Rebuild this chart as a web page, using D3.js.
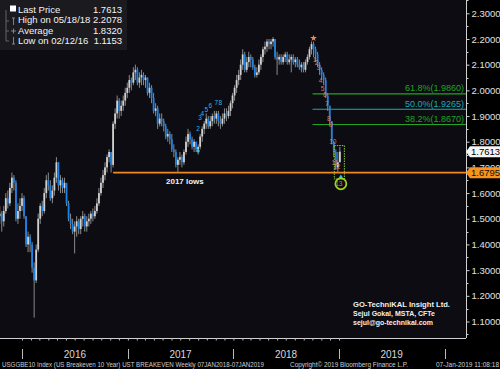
<!DOCTYPE html>
<html>
<head>
<meta charset="utf-8">
<script src="https://cdnjs.cloudflare.com/ajax/libs/d3/7.8.5/d3.min.js"></script>
<style>
  body { margin: 0; background: #000; }
  svg text { font-family: "Liberation Sans", Arial, sans-serif; }
</style>
</head>
<body>
<div id="chart"></div>
<script>
// weekly USGGBE10 bars, Fridays from 16 Oct 2015
var firstWeek = new Date(2015, 9, 16);
var firstOpen = 1.51;
var closes = [
  1.52,1.49,1.53,1.58,1.56,1.62,1.66,1.64,1.50,1.53,
  1.55,1.58,1.51,1.40,1.43,1.40,1.31,1.26,1.38,1.50,
  1.55,1.53,1.60,1.65,1.63,1.58,1.61,1.66,1.72,1.63,
  1.65,1.62,1.64,1.56,1.50,1.48,1.45,1.47,1.49,1.46,
  1.50,1.51,1.47,1.49,1.50,1.52,1.51,1.53,1.56,1.60,
  1.64,1.67,1.70,1.74,1.76,1.71,1.87,1.91,1.96,1.92,
  1.94,1.96,1.99,2.01,2.04,2.03,2.07,2.08,2.03,2.05,
  2.06,2.04,2.05,1.99,2.01,1.97,1.92,1.93,1.87,1.89,
  1.88,1.86,1.82,1.83,1.81,1.77,1.76,1.71,1.73,1.74,
  1.72,1.76,1.80,1.83,1.81,1.78,1.80,1.77,1.78,1.82,
  1.85,1.87,1.89,1.86,1.88,1.90,1.89,1.91,1.88,1.87,
  1.89,1.91,1.90,1.92,1.95,1.98,2.01,2.04,2.06,2.10,
  2.14,2.08,2.11,2.13,2.12,2.09,2.06,2.07,2.10,2.13,
  2.16,2.17,2.19,2.18,2.19,2.20,2.13,2.12,2.13,2.11,
  2.13,2.14,2.11,2.12,2.13,2.11,2.12,2.10,2.09,2.10,
  2.08,2.11,2.13,2.16,2.18,2.16,2.14,2.10,2.08,2.06,
  2.04,1.98,1.94,1.88,1.80,1.76,1.70,1.72,1.7613
];
var highs = [
  1.55,1.53,1.55,1.60,1.61,1.64,1.68,1.67,1.65,1.56,
  1.58,1.60,1.59,1.51,1.45,1.44,1.41,1.33,1.40,1.52,
  1.56,1.57,1.62,1.67,1.68,1.65,1.63,1.68,1.74,1.72,
  1.67,1.66,1.66,1.63,1.57,1.52,1.50,1.49,1.51,1.50,
  1.51,1.53,1.52,1.51,1.52,1.53,1.54,1.55,1.58,1.62,
  1.66,1.69,1.72,1.75,1.77,1.76,1.88,1.93,1.98,1.97,
  1.96,1.98,2.01,2.03,2.06,2.05,2.09,2.10,2.09,2.07,
  2.08,2.07,2.06,2.05,2.03,2.02,1.99,1.95,1.94,1.91,
  1.91,1.89,1.87,1.85,1.84,1.83,1.79,1.77,1.74,1.76,
  1.75,1.77,1.82,1.85,1.84,1.82,1.81,1.80,1.79,1.83,
  1.86,1.88,1.91,1.90,1.90,1.91,1.92,1.92,1.92,1.90,
  1.91,1.93,1.93,1.94,1.96,1.99,2.02,2.06,2.08,2.12,
  2.16,2.15,2.13,2.15,2.14,2.13,2.10,2.09,2.12,2.14,
  2.17,2.19,2.20,2.20,2.20,2.2078,2.20,2.15,2.14,2.14,
  2.14,2.15,2.15,2.14,2.14,2.14,2.13,2.13,2.12,2.11,
  2.11,2.12,2.14,2.17,2.19,2.19,2.17,2.15,2.11,2.09,
  2.07,2.05,1.99,1.94,1.88,1.80,1.77,1.76,1.78
];
var lows = [
  1.48,1.45,1.47,1.52,1.54,1.55,1.60,1.61,1.49,1.48,
  1.50,1.53,1.50,1.39,1.37,1.37,1.29,1.1153,1.25,1.37,
  1.48,1.51,1.52,1.58,1.61,1.57,1.56,1.59,1.64,1.61,
  1.60,1.60,1.60,1.55,1.49,1.46,1.44,1.365,1.43,1.44,
  1.44,1.47,1.45,1.45,1.47,1.48,1.49,1.50,1.52,1.55,
  1.59,1.62,1.65,1.68,1.72,1.68,1.70,1.85,1.89,1.89,
  1.90,1.92,1.94,1.97,1.99,2.00,2.02,2.04,2.02,2.01,
  2.02,2.02,2.01,1.98,1.97,1.95,1.91,1.90,1.85,1.86,
  1.86,1.84,1.81,1.80,1.79,1.76,1.74,1.70,1.6795,1.71,
  1.70,1.71,1.75,1.78,1.79,1.77,1.76,1.76,1.75,1.77,
  1.80,1.83,1.85,1.85,1.85,1.86,1.87,1.87,1.86,1.85,
  1.86,1.87,1.88,1.89,1.90,1.93,1.96,1.99,2.02,2.04,
  2.08,2.07,2.07,2.09,2.09,2.08,2.05,2.05,2.06,2.08,
  2.11,2.14,2.15,2.16,2.16,2.17,2.12,2.06,2.10,2.10,
  2.10,2.11,2.10,2.10,2.07,2.10,2.09,2.09,2.08,2.07,
  2.07,2.07,2.10,2.12,2.14,2.13,2.11,2.09,2.06,2.04,
  2.02,1.97,1.92,1.86,1.79,1.74,1.69,1.6795,1.72
];

var legendRows = [
  { label: 'Last Price', value: '1.7613' },
  { label: 'High on 05/18/18', value: '2.2078' },
  { label: 'Average', value: '1.8320' },
  { label: 'Low on 02/12/16', value: '1.1153' }
];
var yearLabels = ['2016', '2017', '2018', '2019'];

var supportLevel = 1.6795;
var supportFromBar = 56;
var lastPrice = 1.7613;
var fibLevels = [
  { label: '61.8%(1.9860)', value: 1.9860, color: '#22a322' },
  { label: '50.0%(1.9265)', value: 1.9265, color: '#1fa9b5' },
  { label: '38.2%(1.8670)', value: 1.8670, color: '#22a322' }
];
var fibFromBar = 155;
// TD sell-side count 1..13 after the October 2018 high
var tdLevels = [2.117, 2.105, 2.086, 2.035, 2.007, 1.980, 1.945, 1.890, 1.867, 1.798, 1.716, 1.700, 1.634];
// cyan count in 2017
var cyanBars = [98, 99, 100, 102, 104, 107, 109];
var cyanLevels = [1.841, 1.884, 1.900, 1.915, 1.930, 1.942, 1.942];
var cyanLabels = ['2', '3', '4', '5', '6', '7', '8'];

(function (d3) {
  'use strict';
  var width = 500, height = 369;
  var plotRight = 466, plotBottom = 338;

  var weeks = d3.timeFriday.range(firstWeek, new Date(2019, 0, 6)).slice(0, closes.length);
  var bars = closes.map(function (c, i) {
    return { date: weeks[i], open: i ? closes[i - 1] : firstOpen, close: c, high: highs[i], low: lows[i] };
  });

  var x = d3.scaleTime()
    .domain([new Date(2016, 0, 1), new Date(2019, 0, 1)])
    .range([22, 339]);
  var y = d3.scaleLinear().domain([1.1, 2.3]).range([321.5, 13.3]);

  var svg = d3.select('#chart').append('svg')
    .attr('width', width).attr('height', height);

  svg.append('rect').attr('width', width).attr('height', height).attr('fill', '#000');
  svg.append('rect').attr('x', 0).attr('y', 0)
    .attr('width', plotRight).attr('height', plotBottom).attr('fill', '#0c0c12');

  var plot = svg.append('g');
  plot.append('clipPath').attr('id', 'clip')
    .append('rect').attr('width', plotRight).attr('height', plotBottom);
  var marks = plot.append('g').attr('clip-path', 'url(#clip)');

  // fib lines
  fibLevels.forEach(function (f) {
    marks.append('line')
      .attr('x1', x(weeks[fibFromBar]) - 1).attr('x2', plotRight)
      .attr('y1', y(f.value)).attr('y2', y(f.value))
      .attr('stroke', f.color).attr('stroke-width', 1.2);
    marks.append('text')
      .attr('x', plotRight - 2).attr('y', y(f.value) - 2.5)
      .attr('text-anchor', 'end').attr('font-size', 9)
      .attr('fill', f.color).text(f.label);
  });

  // support line
  marks.append('line')
    .attr('x1', x(weeks[supportFromBar])).attr('x2', plotRight)
    .attr('y1', y(supportLevel)).attr('y2', y(supportLevel))
    .attr('stroke', '#f08a24').attr('stroke-width', 1.6);

  // candles
  var candle = marks.selectAll('.bar').data(bars).enter().append('g').attr('class', 'bar');
  candle.append('line')
    .attr('x1', function (d) { return x(d.date); })
    .attr('x2', function (d) { return x(d.date); })
    .attr('y1', function (d) { return y(d.high); })
    .attr('y2', function (d) { return y(d.low); })
    .attr('stroke', '#8a8a8a').attr('stroke-width', 1);
  candle.append('rect')
    .attr('x', function (d) { return x(d.date) - 0.9; })
    .attr('width', 1.8)
    .attr('y', function (d) { return y(Math.max(d.open, d.close)); })
    .attr('height', function (d) { return Math.max(1, Math.abs(y(d.open) - y(d.close))); })
    .attr('fill', function (d) { return d.close < d.open ? '#1b82e6' : '#cfcfcf'; });

  // 2017 lows
  marks.append('text')
    .attr('x', x(weeks[88]) + 7).attr('y', y(supportLevel) + 11)
    .attr('text-anchor', 'middle').attr('font-size', 8).attr('font-weight', 'bold')
    .attr('fill', '#f2f2f2').text('2017 lows');

  // cyan count
  marks.append('path')
    .attr('d', d3.symbol().type(d3.symbolCircle).size(8)())
    .attr('transform', 'translate(' + x(weeks[98]) + ',' + y(1.764) + ')')
    .attr('fill', '#2bc6ee');
  cyanLabels.forEach(function (t, k) {
    marks.append('text')
      .attr('x', x(weeks[cyanBars[k]])).attr('y', y(cyanLevels[k]))
      .attr('text-anchor', 'middle').attr('font-size', 6.5)
      .attr('fill', '#2bb6e0').text(t);
  });

  // high star
  marks.append('path')
    .attr('d', d3.symbol().type(d3.symbolStar).size(14)())
    .attr('transform', 'translate(' + x(weeks[155]) + ',' + y(2.203) + ')')
    .attr('fill', '#f5874f');

  // TD sell count
  tdLevels.forEach(function (v, k) {
    marks.append('text')
      .attr('x', x(weeks[156 + k]) - 1).attr('y', y(v) + 2)
      .attr('text-anchor', 'middle').attr('font-size', 6.5)
      .attr('fill', '#d77a5a').text(k + 1);
  });

  // last-bars box, triangle and circle
  marks.append('rect')
    .attr('x', x(weeks[166]) - 1.5).attr('y', y(1.785))
    .attr('width', x(weeks[168]) - x(weeks[166]) + 6)
    .attr('height', y(1.655) - y(1.785))
    .attr('fill', 'none').attr('stroke', '#8cc63f').attr('stroke-width', 1)
    .attr('stroke-dasharray', '1.5,1');
  marks.append('path')
    .attr('d', d3.symbol().type(d3.symbolTriangle).size(10)())
    .attr('transform', 'translate(' + (x(weeks[168]) + 1) + ',' + y(1.662) + ')')
    .attr('fill', '#2bc6ee');
  marks.append('circle')
    .attr('cx', x(weeks[168]) + 1).attr('cy', y(1.636)).attr('r', 5.5)
    .attr('fill', 'none').attr('stroke', '#9ad21e').attr('stroke-width', 1.8);

  // signature
  var sig = ['GO-TechniKAL Insight Ltd.', 'Sejul Gokal, MSTA, CFTe', 'sejul@go-technikal.com'];
  var sigLen = [97, 82, 80];
  sig.forEach(function (t, k) {
    marks.append('text')
      .attr('x', 353).attr('y', 307 + k * 9)
      .attr('font-size', 7.5).attr('font-weight', 'bold').attr('fill', '#f0f0f0')
      .attr('textLength', sigLen[k]).attr('lengthAdjust', 'spacingAndGlyphs')
      .text(t);
  });

  // frame
  svg.append('line').attr('x1', plotRight + 0.5).attr('x2', plotRight + 0.5)
    .attr('y1', 0).attr('y2', plotBottom).attr('stroke', '#d0d0d0');
  svg.append('line').attr('x1', 0).attr('x2', plotRight)
    .attr('y1', plotBottom + 0.5).attr('y2', plotBottom + 0.5).attr('stroke', '#d0d0d0');

  // right axis
  var yAxis = d3.axisRight(y)
    .tickValues(d3.range(11, 24).map(function (v) { return v / 10; }))
    .tickFormat(d3.format('.4f')).tickSize(3).tickPadding(2);
  var yg = svg.append('g').attr('transform', 'translate(' + (plotRight + 0.5) + ',0)').call(yAxis);
  yg.select('.domain').remove();
  yg.selectAll('line').attr('stroke', '#d0d0d0');
  yg.selectAll('text').attr('fill', '#e0e0e0').attr('font-size', 9.5);
  svg.append('g').attr('transform', 'translate(' + (plotRight + 0.5) + ',0)')
    .selectAll('line').data(d3.range(10.5, 24, 1).map(function (v) { return v / 10; }))
    .enter().append('line')
    .attr('x1', 0).attr('x2', 2)
    .attr('y1', function (d) { return Math.round(y(d)) + 0.5; })
    .attr('y2', function (d) { return Math.round(y(d)) + 0.5; })
    .attr('stroke', '#d0d0d0');

  // price tags
  function tag(v, fill, txt) {
    var ty = y(v);
    svg.append('path')
      .attr('d', 'M' + plotRight + ',' + ty + 'L' + (plotRight + 4) + ',' + (ty - 5.5) +
        'L500,' + (ty - 5.5) + 'L500,' + (ty + 5.5) + 'L' + (plotRight + 4) + ',' + (ty + 5.5) + 'Z')
      .attr('fill', fill);
    svg.append('text').attr('x', plotRight + 5).attr('y', ty + 3.5)
      .attr('font-size', 9.5).attr('fill', txt).text(d3.format('.4f')(v));
  }
  tag(lastPrice, '#f4f4f4', '#000');
  tag(supportLevel, '#f7931e', '#1a0d00');

  // bottom axis: monthly ticks, year dividers
  var xAxis = d3.axisBottom(x)
    .ticks(d3.timeMonth.every(1))
    .tickFormat('').tickSize(2);
  var xg = svg.append('g').attr('transform', 'translate(0,' + (plotBottom + 0.5) + ')').call(xAxis);
  xg.select('.domain').remove();
  xg.selectAll('line').attr('stroke', '#bbbbbb');

  var years = d3.timeYear.range(new Date(2016, 0, 1), new Date(2021, 0, 1));
  svg.selectAll('.ysep').data(years).enter().append('line')
    .attr('x1', function (d) { return Math.round(x(d)) + 0.5; })
    .attr('x2', function (d) { return Math.round(x(d)) + 0.5; })
    .attr('y1', 349).attr('y2', 359).attr('stroke', '#bbbbbb');
  svg.selectAll('.ylab').data(yearLabels).enter().append('text')
    .attr('x', function (d) { return x(new Date(+d, 6, 2)); })
    .attr('y', 358).attr('text-anchor', 'middle')
    .attr('font-size', 10).attr('fill', '#d8d8d8').text(function (d) { return d; });

  // footer
  svg.append('text').attr('x', 2).attr('y', 366.5).attr('font-size', 6.5).attr('fill', '#cfcfcf')
    .attr('textLength', 262).attr('lengthAdjust', 'spacingAndGlyphs')
    .text('USGGBE10 Index (US Breakeven 10 Year) UST BREAKEVEN  Weekly 07JAN2018-07JAN2019');
  svg.append('text').attr('x', 290).attr('y', 366.5).attr('font-size', 6.5).attr('fill', '#cfcfcf')
    .attr('textLength', 118).attr('lengthAdjust', 'spacingAndGlyphs')
    .text('Copyright\u00a9 2019 Bloomberg Finance L.P.');
  svg.append('text').attr('x', 499).attr('y', 366.5).attr('font-size', 6.5).attr('fill', '#cfcfcf')
    .attr('text-anchor', 'end')
    .text('07-Jan-2019 11:08:18');

  // legend
  var lg = svg.append('g');
  lg.append('rect').attr('x', 0).attr('y', 0).attr('width', 127).attr('height', 50).attr('fill', '#1b1b1f');
  lg.append('path').attr('d', 'M6,10V41M6,21H9M6,31H9M6,41H9')
    .attr('stroke', '#777').attr('fill', 'none').attr('stroke-width', 0.8);
  lg.append('rect').attr('x', 10).attr('y', 5.5).attr('width', 6).attr('height', 6).attr('fill', '#fff');
  lg.append('path').attr('d', 'M12,18H15M13.5,18V25M11,31H16M13.5,28.5V33.5M13.5,37V44M12,44H15')
    .attr('stroke', '#999').attr('fill', 'none').attr('stroke-width', 0.8);
  legendRows.forEach(function (r, k) {
    lg.append('text').attr('x', 18).attr('y', 13 + k * 10.3)
      .attr('font-size', 9.5).attr('fill', '#f2f2f2').text(r.label);
    lg.append('text').attr('x', 122).attr('y', 13 + k * 10.3).attr('text-anchor', 'end')
      .attr('font-size', 9.5).attr('fill', '#f2f2f2').text(r.value);
  });
})(window.d3);
</script>
</body>
</html>
